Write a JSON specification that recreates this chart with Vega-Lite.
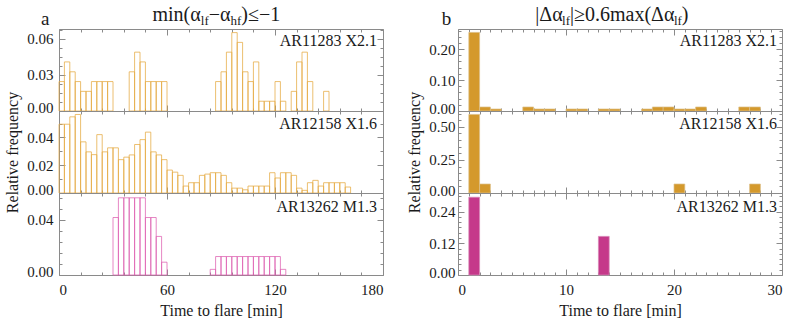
{
  "$schema": "https://vega.github.io/schema/vega-lite/v6.json",
  "padding": {"left": 4, "top": 4, "right": 5, "bottom": 5},
  "config": {
    "view": {"stroke": "#8a8a8a", "strokeWidth": 1},
    "font": "Liberation Serif",
    "axis": {"domain": false, "grid": false, "tickColor": "#8a8a8a", "tickWidth": 1, "labelFont": "Liberation Serif", "labelFontSize": 15, "labelColor": "#1a1a1a", "titleFont": "Liberation Serif", "titleFontSize": 16, "titleFontWeight": "normal", "titleColor": "#1a1a1a", "labelOverlap": false},
    "text": {"font": "Liberation Serif", "color": "#1a1a1a"}
  },
  "datasets": {
    "a1": [
      {"t0": 0, "t1": 3, "f": 0.0244}, {"t0": 3, "t1": 6, "f": 0.0407}, {"t0": 6, "t1": 9, "f": 0.0325}, {"t0": 9, "t1": 12, "f": 0.0244},
      {"t0": 12, "t1": 15, "f": 0.0163}, {"t0": 15, "t1": 18, "f": 0.0163}, {"t0": 18, "t1": 21, "f": 0.0244}, {"t0": 21, "t1": 24, "f": 0.0244},
      {"t0": 24, "t1": 27, "f": 0.0244}, {"t0": 27, "t1": 30, "f": 0.0244},
      {"t0": 39, "t1": 42, "f": 0.0325}, {"t0": 42, "t1": 45, "f": 0.0488}, {"t0": 45, "t1": 48, "f": 0.0407}, {"t0": 48, "t1": 51, "f": 0.0244},
      {"t0": 51, "t1": 54, "f": 0.0244}, {"t0": 54, "t1": 57, "f": 0.0244}, {"t0": 57, "t1": 60, "f": 0.0244},
      {"t0": 87, "t1": 90, "f": 0.0244}, {"t0": 90, "t1": 93, "f": 0.0325}, {"t0": 93, "t1": 96, "f": 0.0488}, {"t0": 96, "t1": 99, "f": 0.065},
      {"t0": 99, "t1": 102, "f": 0.0569}, {"t0": 102, "t1": 105, "f": 0.0325}, {"t0": 105, "t1": 108, "f": 0.0244}, {"t0": 108, "t1": 111, "f": 0.0407},
      {"t0": 111, "t1": 114, "f": 0.0081}, {"t0": 114, "t1": 117, "f": 0.0081}, {"t0": 117, "t1": 120, "f": 0.0081}, {"t0": 120, "t1": 123, "f": 0.0244},
      {"t0": 123, "t1": 126, "f": 0.0081},
      {"t0": 129, "t1": 132, "f": 0.0163}, {"t0": 132, "t1": 135, "f": 0.0407}, {"t0": 135, "t1": 138, "f": 0.0488}, {"t0": 138, "t1": 141, "f": 0.0244},
      {"t0": 147, "t1": 150, "f": 0.0163}
    ],
    "a2": [
      {"t0": 0, "t1": 3, "f": 0.0495}, {"t0": 3, "t1": 6, "f": 0.0495}, {"t0": 6, "t1": 9, "f": 0.0548}, {"t0": 9, "t1": 12, "f": 0.0565},
      {"t0": 12, "t1": 15, "f": 0.0368}, {"t0": 15, "t1": 18, "f": 0.0296}, {"t0": 18, "t1": 21, "f": 0.0276}, {"t0": 21, "t1": 24, "f": 0.042},
      {"t0": 24, "t1": 27, "f": 0.0296}, {"t0": 27, "t1": 30, "f": 0.0325}, {"t0": 30, "t1": 33, "f": 0.0325}, {"t0": 33, "t1": 36, "f": 0.024},
      {"t0": 36, "t1": 39, "f": 0.0258}, {"t0": 39, "t1": 42, "f": 0.0274}, {"t0": 42, "t1": 45, "f": 0.0349}, {"t0": 45, "t1": 48, "f": 0.0384},
      {"t0": 48, "t1": 51, "f": 0.0438}, {"t0": 51, "t1": 54, "f": 0.0296}, {"t0": 54, "t1": 57, "f": 0.0274}, {"t0": 57, "t1": 60, "f": 0.024},
      {"t0": 60, "t1": 63, "f": 0.0165}, {"t0": 63, "t1": 66, "f": 0.015}, {"t0": 66, "t1": 69, "f": 0.0127}, {"t0": 69, "t1": 72, "f": 0.005},
      {"t0": 72, "t1": 75, "f": 0.0074}, {"t0": 75, "t1": 78, "f": 0.0074}, {"t0": 78, "t1": 81, "f": 0.0127}, {"t0": 81, "t1": 84, "f": 0.0136},
      {"t0": 84, "t1": 87, "f": 0.0146}, {"t0": 87, "t1": 90, "f": 0.0146}, {"t0": 90, "t1": 93, "f": 0.0127}, {"t0": 93, "t1": 96, "f": 0.0074},
      {"t0": 96, "t1": 99, "f": 0.0035}, {"t0": 99, "t1": 102, "f": 0.0035}, {"t0": 102, "t1": 105, "f": 0.0023}, {"t0": 105, "t1": 108, "f": 0.005},
      {"t0": 108, "t1": 111, "f": 0.005}, {"t0": 111, "t1": 114, "f": 0.005}, {"t0": 114, "t1": 117, "f": 0.005}, {"t0": 117, "t1": 120, "f": 0.0146},
      {"t0": 120, "t1": 123, "f": 0.0108}, {"t0": 123, "t1": 126, "f": 0.0146}, {"t0": 126, "t1": 129, "f": 0.0146}, {"t0": 129, "t1": 132, "f": 0.0127},
      {"t0": 132, "t1": 135, "f": 0.0035}, {"t0": 135, "t1": 138, "f": 0.0019}, {"t0": 138, "t1": 141, "f": 0.0074}, {"t0": 141, "t1": 144, "f": 0.0091},
      {"t0": 144, "t1": 147, "f": 0.005}, {"t0": 147, "t1": 150, "f": 0.0074}, {"t0": 150, "t1": 153, "f": 0.0074}, {"t0": 153, "t1": 156, "f": 0.0074},
      {"t0": 156, "t1": 159, "f": 0.0074}, {"t0": 159, "t1": 162, "f": 0.0043}
    ],
    "a3": [
      {"t0": 30, "t1": 33, "f": 0.0417}, {"t0": 33, "t1": 36, "f": 0.056}, {"t0": 36, "t1": 39, "f": 0.056}, {"t0": 39, "t1": 42, "f": 0.056},
      {"t0": 42, "t1": 45, "f": 0.056}, {"t0": 45, "t1": 48, "f": 0.056}, {"t0": 48, "t1": 51, "f": 0.0417}, {"t0": 51, "t1": 54, "f": 0.0417},
      {"t0": 54, "t1": 57, "f": 0.028}, {"t0": 57, "t1": 60, "f": 0.0093},
      {"t0": 84, "t1": 87, "f": 0.0041}, {"t0": 87, "t1": 90, "f": 0.0134}, {"t0": 90, "t1": 93, "f": 0.0134}, {"t0": 93, "t1": 96, "f": 0.0134},
      {"t0": 96, "t1": 99, "f": 0.0134}, {"t0": 99, "t1": 102, "f": 0.0134}, {"t0": 102, "t1": 105, "f": 0.0134}, {"t0": 105, "t1": 108, "f": 0.0134},
      {"t0": 108, "t1": 111, "f": 0.0134}, {"t0": 111, "t1": 114, "f": 0.0134}, {"t0": 114, "t1": 117, "f": 0.0134}, {"t0": 117, "t1": 120, "f": 0.0134},
      {"t0": 120, "t1": 123, "f": 0.0134}, {"t0": 123, "t1": 126, "f": 0.0041}
    ],
    "b1": [
      {"t0": 1, "t1": 2, "f": 0.254}, {"t0": 2, "t1": 3, "f": 0.013}, {"t0": 3, "t1": 4, "f": 0.0065},
      {"t0": 6, "t1": 7, "f": 0.013}, {"t0": 7, "t1": 8, "f": 0.0065}, {"t0": 8, "t1": 9, "f": 0.0065},
      {"t0": 10, "t1": 11, "f": 0.0065}, {"t0": 11, "t1": 12, "f": 0.0065},
      {"t0": 13, "t1": 14, "f": 0.0065}, {"t0": 14, "t1": 15, "f": 0.0065},
      {"t0": 17, "t1": 18, "f": 0.0065}, {"t0": 18, "t1": 19, "f": 0.013}, {"t0": 19, "t1": 20, "f": 0.013}, {"t0": 20, "t1": 21, "f": 0.0065},
      {"t0": 21, "t1": 22, "f": 0.0065}, {"t0": 22, "t1": 23, "f": 0.013},
      {"t0": 26, "t1": 27, "f": 0.013}, {"t0": 27, "t1": 28, "f": 0.013}
    ],
    "b2": [
      {"t0": 1, "t1": 2, "f": 0.594}, {"t0": 2, "t1": 3, "f": 0.068}, {"t0": 20, "t1": 21, "f": 0.068}, {"t0": 27, "t1": 28, "f": 0.068}
    ],
    "b3": [
      {"t0": 1, "t1": 2, "f": 0.294}, {"t0": 13, "t1": 14, "f": 0.146}
    ]
  },
  "hconcat": [
    {
      "vconcat": [
        {
          "width": 324, "height": 82,
          "layer": [
            {
              "data": {"name": "a1"},
              "mark": {"type": "bar", "fill": "transparent", "stroke": "#E5A940", "strokeWidth": 1, "strokeOpacity": 0.75},
              "encoding": {
                "x": {"field": "t0", "type": "quantitative", "scale": {"domain": [0, 180], "nice": false, "zero": false},
                  "axis": {"orient": "bottom", "values": [0,12,24,36,48,60,72,84,96,108,120,132,144,156,168,180], "labels": false, "title": null,
                    "tickSize": {"condition": {"test": "datum.value % 60 === 0", "value": -6}, "value": -3}}},
                "x2": {"field": "t1"},
                "y": {"field": "f", "type": "quantitative", "scale": {"domain": [0, 0.068], "nice": false, "zero": false},
                  "axis": {"orient": "left", "values": [0,0.0075,0.015,0.0225,0.03,0.0375,0.045,0.0525,0.06,0.0675], "format": ".2f", "title": null, "labelPadding": 12,
                    "labelExpr": "abs(datum.value/0.03 - round(datum.value/0.03)) < 1e-6 ? datum.label : ''",
                    "labelOffset": {"condition": {"test": "datum.value === 0", "value": -4}, "value": 0},
                    "tickSize": {"condition": {"test": "abs(datum.value/0.03 - round(datum.value/0.03)) < 1e-6", "value": -6}, "value": -3}}},
                "y2": {"datum": 0}
              }
            },
            {
              "data": {"values": [{"label": "AR11283 X2.1"}]},
              "mark": {"type": "text", "align": "right", "baseline": "top", "dx": -6, "dy": 4, "fontSize": 16},
              "encoding": {
                "x": {"datum": 180, "type": "quantitative", "axis": {"orient": "top", "values": [0,12,24,36,48,60,72,84,96,108,120,132,144,156,168,180], "labels": false, "title": null,
                    "tickSize": {"condition": {"test": "datum.value % 60 === 0", "value": -6}, "value": -3}}},
                "y": {"datum": 0.068, "type": "quantitative", "axis": {"orient": "right", "values": [0,0.0075,0.015,0.0225,0.03,0.0375,0.045,0.0525,0.06,0.0675], "labels": false, "title": null,
                    "tickSize": {"condition": {"test": "abs(datum.value/0.03 - round(datum.value/0.03)) < 1e-6", "value": -6}, "value": -3}}},
                "text": {"field": "label"}
              }
            },
            {
              "data": {"values": [{"s": "a"}]},
              "mark": {"type": "text", "align": "left", "baseline": "alphabetic", "fontSize": 19},
              "encoding": {"x": {"datum": -10, "type": "quantitative", "axis": null}, "y": {"datum": 0.0713, "type": "quantitative", "axis": null}, "text": {"field": "s"}}
            },
            {
              "data": {"values": [{"s": "min(α"}]},
              "mark": {"type": "text", "align": "left", "baseline": "alphabetic", "fontSize": 20},
              "encoding": {"x": {"datum": 51.9, "type": "quantitative", "axis": null}, "y": {"datum": 0.0749, "type": "quantitative", "axis": null}, "text": {"field": "s"}}
            },
            {
              "data": {"values": [{"s": "lf"}]},
              "mark": {"type": "text", "align": "left", "baseline": "alphabetic", "fontSize": 13},
              "encoding": {"x": {"datum": 78.8, "type": "quantitative", "axis": null}, "y": {"datum": 0.0713, "type": "quantitative", "axis": null}, "text": {"field": "s"}}
            },
            {
              "data": {"values": [{"s": "−α"}]},
              "mark": {"type": "text", "align": "left", "baseline": "alphabetic", "fontSize": 20},
              "encoding": {"x": {"datum": 83.2, "type": "quantitative", "axis": null}, "y": {"datum": 0.0749, "type": "quantitative", "axis": null}, "text": {"field": "s"}}
            },
            {
              "data": {"values": [{"s": "hf"}]},
              "mark": {"type": "text", "align": "left", "baseline": "alphabetic", "fontSize": 13},
              "encoding": {"x": {"datum": 95.3, "type": "quantitative", "axis": null}, "y": {"datum": 0.0713, "type": "quantitative", "axis": null}, "text": {"field": "s"}}
            },
            {
              "data": {"values": [{"s": ")≤−1"}]},
              "mark": {"type": "text", "align": "left", "baseline": "alphabetic", "fontSize": 20},
              "encoding": {"x": {"datum": 101.3, "type": "quantitative", "axis": null}, "y": {"datum": 0.0749, "type": "quantitative", "axis": null}, "text": {"field": "s"}}
            }
          ],
          "resolve": {"axis": {"x": "independent", "y": "independent"}}
        },
        {
          "width": 324, "height": 82,
          "layer": [
            {
              "data": {"name": "a2"},
              "mark": {"type": "bar", "fill": "transparent", "stroke": "#E5A940", "strokeWidth": 1, "strokeOpacity": 0.75},
              "encoding": {
                "x": {"field": "t0", "type": "quantitative", "scale": {"domain": [0, 180], "nice": false, "zero": false},
                  "axis": {"orient": "bottom", "values": [0,12,24,36,48,60,72,84,96,108,120,132,144,156,168,180], "labels": false, "title": null,
                    "tickSize": {"condition": {"test": "datum.value % 60 === 0", "value": -6}, "value": -3}}},
                "x2": {"field": "t1"},
                "y": {"field": "f", "type": "quantitative", "scale": {"domain": [0, 0.059], "nice": false, "zero": false},
                  "axis": {"orient": "left", "values": [0,0.01,0.02,0.03,0.04,0.05], "format": ".2f", "title": "Relative frequency", "titlePadding": 6, "labelPadding": 12,
                    "labelExpr": "abs(datum.value/0.02 - round(datum.value/0.02)) < 1e-6 ? datum.label : ''",
                    "labelOffset": {"condition": {"test": "datum.value === 0", "value": -4}, "value": 0},
                    "tickSize": {"condition": {"test": "abs(datum.value/0.02 - round(datum.value/0.02)) < 1e-6", "value": -6}, "value": -3}}},
                "y2": {"datum": 0}
              }
            },
            {
              "data": {"values": [{"label": "AR12158 X1.6"}]},
              "mark": {"type": "text", "align": "right", "baseline": "top", "dx": -6, "dy": 5, "fontSize": 16},
              "encoding": {
                "x": {"datum": 180, "type": "quantitative", "axis": {"orient": "top", "values": [0,12,24,36,48,60,72,84,96,108,120,132,144,156,168,180], "labels": false, "title": null,
                    "tickSize": {"condition": {"test": "datum.value % 60 === 0", "value": -6}, "value": -3}}},
                "y": {"datum": 0.059, "type": "quantitative", "axis": {"orient": "right", "values": [0,0.01,0.02,0.03,0.04,0.05], "labels": false, "title": null,
                    "tickSize": {"condition": {"test": "abs(datum.value/0.02 - round(datum.value/0.02)) < 1e-6", "value": -6}, "value": -3}}},
                "text": {"field": "label"}
              }
            }
          ],
          "resolve": {"axis": {"x": "independent", "y": "independent"}}
        },
        {
          "width": 324, "height": 82,
          "layer": [
            {
              "data": {"name": "a3"},
              "mark": {"type": "bar", "fill": "transparent", "stroke": "#DD5FB0", "strokeWidth": 1, "strokeOpacity": 0.75},
              "encoding": {
                "x": {"field": "t0", "type": "quantitative", "scale": {"domain": [0, 180], "nice": false, "zero": false},
                  "axis": {"orient": "bottom", "values": [0,12,24,36,48,60,72,84,96,108,120,132,144,156,168,180], "format": "d", "title": "Time to flare [min]", "titlePadding": 2, "labelPadding": 13,
                    "labelExpr": "datum.value % 60 === 0 ? datum.label : ''",
                    "tickSize": {"condition": {"test": "datum.value % 60 === 0", "value": -6}, "value": -3}}},
                "x2": {"field": "t1"},
                "y": {"field": "f", "type": "quantitative", "scale": {"domain": [0, 0.0595], "nice": false, "zero": false},
                  "axis": {"orient": "left", "values": [0,0.008,0.016,0.024,0.032,0.04,0.048,0.056], "format": ".2f", "title": null, "labelPadding": 12,
                    "labelExpr": "abs(datum.value/0.04 - round(datum.value/0.04)) < 1e-6 ? datum.label : ''",
                    "labelOffset": {"condition": {"test": "datum.value === 0", "value": -4}, "value": 0},
                    "tickSize": {"condition": {"test": "abs(datum.value/0.04 - round(datum.value/0.04)) < 1e-6", "value": -6}, "value": -3}}},
                "y2": {"datum": 0}
              }
            },
            {
              "data": {"values": [{"label": "AR13262 M1.3"}]},
              "mark": {"type": "text", "align": "right", "baseline": "top", "dx": -6, "dy": 6, "fontSize": 16},
              "encoding": {
                "x": {"datum": 180, "type": "quantitative", "axis": {"orient": "top", "values": [0,12,24,36,48,60,72,84,96,108,120,132,144,156,168,180], "labels": false, "title": null,
                    "tickSize": {"condition": {"test": "datum.value % 60 === 0", "value": -6}, "value": -3}}},
                "y": {"datum": 0.0595, "type": "quantitative", "axis": {"orient": "right", "values": [0,0.008,0.016,0.024,0.032,0.04,0.048,0.056], "labels": false, "title": null,
                    "tickSize": {"condition": {"test": "abs(datum.value/0.04 - round(datum.value/0.04)) < 1e-6", "value": -6}, "value": -3}}},
                "text": {"field": "label"}
              }
            }
          ],
          "resolve": {"axis": {"x": "independent", "y": "independent"}}
        }
      ],
      "spacing": 0,
      "bounds": "flush"
    },
    {
      "vconcat": [
        {
          "width": 324, "height": 82,
          "layer": [
            {
              "data": {"name": "b1"},
              "mark": {"type": "bar", "fill": "#D4992C", "stroke": "#dcc08a", "strokeWidth": 0.7},
              "encoding": {
                "x": {"field": "t0", "type": "quantitative", "scale": {"domain": [0, 30], "nice": false, "zero": false},
                  "axis": {"orient": "bottom", "values": [0,1,2,3,4,5,6,7,8,9,10,11,12,13,14,15,16,17,18,19,20,21,22,23,24,25,26,27,28,29,30], "labels": false, "title": null,
                    "tickSize": {"condition": {"test": "datum.value % 10 === 0", "value": -6}, "value": -3}}},
                "x2": {"field": "t1"},
                "y": {"field": "f", "type": "quantitative", "scale": {"domain": [0, 0.265], "nice": false, "zero": false},
                  "axis": {"orient": "left", "values": [0,0.02,0.04,0.06,0.08,0.1,0.12,0.14,0.16,0.18,0.2,0.22,0.24,0.26], "format": ".2f", "title": null, "labelPadding": 9,
                    "labelExpr": "abs(datum.value/0.1 - round(datum.value/0.1)) < 1e-6 ? datum.label : ''",
                    "labelOffset": {"condition": {"test": "datum.value === 0", "value": -3}, "value": 0},
                    "tickSize": {"condition": {"test": "abs(datum.value/0.1 - round(datum.value/0.1)) < 1e-6", "value": -6}, "value": -3}}},
                "y2": {"datum": 0}
              }
            },
            {
              "data": {"values": [{"label": "AR11283 X2.1"}]},
              "mark": {"type": "text", "align": "right", "baseline": "top", "dx": -5, "dy": 4, "fontSize": 16},
              "encoding": {
                "x": {"datum": 30, "type": "quantitative", "axis": {"orient": "top", "values": [0,1,2,3,4,5,6,7,8,9,10,11,12,13,14,15,16,17,18,19,20,21,22,23,24,25,26,27,28,29,30], "labels": false, "title": null,
                    "tickSize": {"condition": {"test": "datum.value % 10 === 0", "value": -6}, "value": -3}}},
                "y": {"datum": 0.265, "type": "quantitative", "axis": {"orient": "right", "values": [0,0.02,0.04,0.06,0.08,0.1,0.12,0.14,0.16,0.18,0.2,0.22,0.24,0.26], "labels": false, "title": null,
                    "tickSize": {"condition": {"test": "abs(datum.value/0.1 - round(datum.value/0.1)) < 1e-6", "value": -6}, "value": -3}}},
                "text": {"field": "label"}
              }
            },
            {
              "data": {"values": [{"s": "b"}]},
              "mark": {"type": "text", "align": "left", "baseline": "alphabetic", "fontSize": 19},
              "encoding": {"x": {"datum": -1.5, "type": "quantitative", "axis": null}, "y": {"datum": 0.278, "type": "quantitative", "axis": null}, "text": {"field": "s"}}
            },
            {
              "data": {"values": [{"s": "|Δα"}]},
              "mark": {"type": "text", "align": "left", "baseline": "alphabetic", "fontSize": 20},
              "encoding": {"x": {"datum": 7.16, "type": "quantitative", "axis": null}, "y": {"datum": 0.2918, "type": "quantitative", "axis": null}, "text": {"field": "s"}}
            },
            {
              "data": {"values": [{"s": "lf"}]},
              "mark": {"type": "text", "align": "left", "baseline": "alphabetic", "fontSize": 13},
              "encoding": {"x": {"datum": 9.64, "type": "quantitative", "axis": null}, "y": {"datum": 0.278, "type": "quantitative", "axis": null}, "text": {"field": "s"}}
            },
            {
              "data": {"values": [{"s": "|≥0.6max(Δα"}]},
              "mark": {"type": "text", "align": "left", "baseline": "alphabetic", "fontSize": 20},
              "encoding": {"x": {"datum": 10.37, "type": "quantitative", "axis": null}, "y": {"datum": 0.2918, "type": "quantitative", "axis": null}, "text": {"field": "s"}}
            },
            {
              "data": {"values": [{"s": "lf"}]},
              "mark": {"type": "text", "align": "left", "baseline": "alphabetic", "fontSize": 13},
              "encoding": {"x": {"datum": 19.99, "type": "quantitative", "axis": null}, "y": {"datum": 0.278, "type": "quantitative", "axis": null}, "text": {"field": "s"}}
            },
            {
              "data": {"values": [{"s": ")"}]},
              "mark": {"type": "text", "align": "left", "baseline": "alphabetic", "fontSize": 20},
              "encoding": {"x": {"datum": 20.72, "type": "quantitative", "axis": null}, "y": {"datum": 0.2918, "type": "quantitative", "axis": null}, "text": {"field": "s"}}
            }
          ],
          "resolve": {"axis": {"x": "independent", "y": "independent"}}
        },
        {
          "width": 324, "height": 82,
          "layer": [
            {
              "data": {"name": "b2"},
              "mark": {"type": "bar", "fill": "#D4992C", "stroke": "#dcc08a", "strokeWidth": 0.7},
              "encoding": {
                "x": {"field": "t0", "type": "quantitative", "scale": {"domain": [0, 30], "nice": false, "zero": false},
                  "axis": {"orient": "bottom", "values": [0,1,2,3,4,5,6,7,8,9,10,11,12,13,14,15,16,17,18,19,20,21,22,23,24,25,26,27,28,29,30], "labels": false, "title": null,
                    "tickSize": {"condition": {"test": "datum.value % 10 === 0", "value": -6}, "value": -3}}},
                "x2": {"field": "t1"},
                "y": {"field": "f", "type": "quantitative", "scale": {"domain": [0, 0.62], "nice": false, "zero": false},
                  "axis": {"orient": "left", "values": [0,0.05,0.1,0.15,0.2,0.25,0.3,0.35,0.4,0.45,0.5,0.55,0.6], "format": ".2f", "title": "Relative frequency", "titlePadding": 6, "labelPadding": 9,
                    "labelExpr": "abs(datum.value/0.25 - round(datum.value/0.25)) < 1e-6 ? datum.label : ''",
                    "labelOffset": {"condition": {"test": "datum.value === 0", "value": -3}, "value": 0},
                    "tickSize": {"condition": {"test": "abs(datum.value/0.25 - round(datum.value/0.25)) < 1e-6", "value": -6}, "value": -3}}},
                "y2": {"datum": 0}
              }
            },
            {
              "data": {"values": [{"label": "AR12158 X1.6"}]},
              "mark": {"type": "text", "align": "right", "baseline": "top", "dx": -5, "dy": 5, "fontSize": 16},
              "encoding": {
                "x": {"datum": 30, "type": "quantitative", "axis": {"orient": "top", "values": [0,1,2,3,4,5,6,7,8,9,10,11,12,13,14,15,16,17,18,19,20,21,22,23,24,25,26,27,28,29,30], "labels": false, "title": null,
                    "tickSize": {"condition": {"test": "datum.value % 10 === 0", "value": -6}, "value": -3}}},
                "y": {"datum": 0.62, "type": "quantitative", "axis": {"orient": "right", "values": [0,0.05,0.1,0.15,0.2,0.25,0.3,0.35,0.4,0.45,0.5,0.55,0.6], "labels": false, "title": null,
                    "tickSize": {"condition": {"test": "abs(datum.value/0.25 - round(datum.value/0.25)) < 1e-6", "value": -6}, "value": -3}}},
                "text": {"field": "label"}
              }
            }
          ],
          "resolve": {"axis": {"x": "independent", "y": "independent"}}
        },
        {
          "width": 324, "height": 82,
          "layer": [
            {
              "data": {"name": "b3"},
              "mark": {"type": "bar", "fill": "#C5398A", "stroke": "#d888b8", "strokeWidth": 0.7},
              "encoding": {
                "x": {"field": "t0", "type": "quantitative", "scale": {"domain": [0, 30], "nice": false, "zero": false},
                  "axis": {"orient": "bottom", "values": [0,1,2,3,4,5,6,7,8,9,10,11,12,13,14,15,16,17,18,19,20,21,22,23,24,25,26,27,28,29,30], "format": "d", "title": "Time to flare [min]", "titlePadding": 2, "labelPadding": 13,
                    "labelExpr": "datum.value % 10 === 0 ? datum.label : ''",
                    "tickSize": {"condition": {"test": "datum.value % 10 === 0", "value": -6}, "value": -3}}},
                "x2": {"field": "t1"},
                "y": {"field": "f", "type": "quantitative", "scale": {"domain": [0, 0.31], "nice": false, "zero": false},
                  "axis": {"orient": "left", "values": [0,0.02,0.04,0.06,0.08,0.1,0.12,0.14,0.16,0.18,0.2,0.22,0.24,0.26,0.28,0.3], "format": ".2f", "title": null, "labelPadding": 9,
                    "labelExpr": "abs(datum.value/0.12 - round(datum.value/0.12)) < 1e-6 ? datum.label : ''",
                    "labelOffset": {"condition": {"test": "datum.value === 0", "value": -3}, "value": 0},
                    "tickSize": {"condition": {"test": "abs(datum.value/0.12 - round(datum.value/0.12)) < 1e-6", "value": -6}, "value": -3}}},
                "y2": {"datum": 0}
              }
            },
            {
              "data": {"values": [{"label": "AR13262 M1.3"}]},
              "mark": {"type": "text", "align": "right", "baseline": "top", "dx": -5, "dy": 6, "fontSize": 16},
              "encoding": {
                "x": {"datum": 30, "type": "quantitative", "axis": {"orient": "top", "values": [0,1,2,3,4,5,6,7,8,9,10,11,12,13,14,15,16,17,18,19,20,21,22,23,24,25,26,27,28,29,30], "labels": false, "title": null,
                    "tickSize": {"condition": {"test": "datum.value % 10 === 0", "value": -6}, "value": -3}}},
                "y": {"datum": 0.31, "type": "quantitative", "axis": {"orient": "right", "values": [0,0.02,0.04,0.06,0.08,0.1,0.12,0.14,0.16,0.18,0.2,0.22,0.24,0.26,0.28,0.3], "labels": false, "title": null,
                    "tickSize": {"condition": {"test": "abs(datum.value/0.12 - round(datum.value/0.12)) < 1e-6", "value": -6}, "value": -3}}},
                "text": {"field": "label"}
              }
            }
          ],
          "resolve": {"axis": {"x": "independent", "y": "independent"}}
        }
      ],
      "spacing": 0,
      "bounds": "flush"
    }
  ],
  "spacing": 22
}
